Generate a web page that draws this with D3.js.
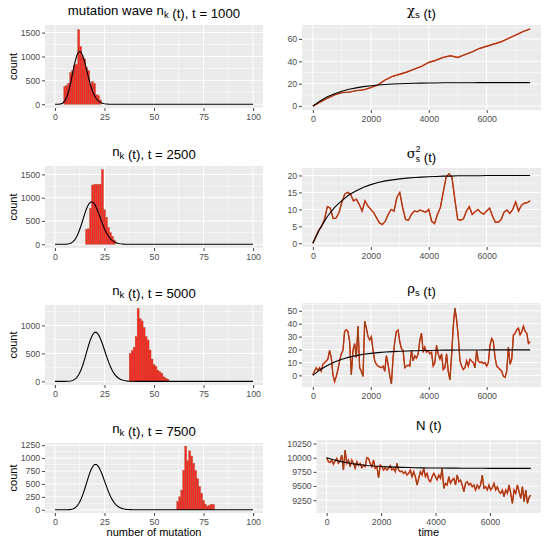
<!DOCTYPE html>
<html>
<head>
<meta charset="utf-8">
<script src="https://cdn.jsdelivr.net/npm/d3@7"></script>
<style>
  body { margin: 0; background: #fff; }
</style>
</head>
<body>
<script>
// ---- histogram data: counts per integer bin (number of mutations) ----
const bins1000   = [5,6,7,8,9,10,11,12,13,14,15,16,17,18,19,20,21,22,23];
const counts1000 = [370,390,440,660,700,810,840,1560,1210,990,950,770,700,410,470,430,200,180,90];

const bins2500   = [16,17,18,19,20,21,22,23,24,25,26,27,28,29,30];
const counts2500 = [320,330,770,1270,1280,1290,1280,1290,1600,740,580,360,250,170,90];

const bins5000   = [38,39,40,41,42,43,44,45,46,47,48,49,50,51,52,53,54,55,56,57];
const counts5000 = [500,550,610,800,1300,1120,1080,960,800,740,560,400,300,270,200,170,140,80,60,40];

const bins7500   = [62,63,64,65,66,67,68,69,70,71,72,73,74,75,76,77,78,79,80];
const counts7500 = [160,250,380,760,1230,950,1140,1040,900,760,600,450,320,180,110,70,90,110,100];

// ---- theoretical mutation wave (black curves) ----
const curveK = [0,1,2,3,4,5,6,7,8,9,10,11,12,13,14,15,16,17,18,19,20,
                21,22,23,24,25,26,27,28,29,30,31,32,33,34,35,36,37,38,39,40,41,42,100];
const curve1000 = [0,0,2,8,27,70,152,282,458,661,859,1015,1100,1100,1021,885,719,550,397,272,177,
                   109,65,37,20,10,5,2,1,0,0,0,0,0,0,0,0,0,0,0,0,0,0,0];
const curve2500 = [0,0,0,0,0,1,4,10,23,50,94,163,258,377,511,647,769,859,907,907,861,
                   779,673,556,440,335,244,172,117,77,48,30,18,10,6,3,2,1,0,0,0,0,0,0];
const curveLate = [0,0,0,0,0,0,1,3,7,17,35,67,117,189,284,398,522,646,754,833,875,
                   875,835,762,667,560,453,352,264,191,134,91,60,38,23,14,8,5,3,1,1,0,0,0];

// ---- time series ----
const t250 = [0,250,500,750,1000,1250,1500,1750,2000,2250,2500,2750,3000,3250,3500,3750,
              4000,4250,4500,4750,5000,5250,5500,5750,6000,6250,6500,6750,7000,7250,7500];
const chiSim   = [0,3.5,7,10,12,12.5,13.8,14.5,16.5,19,23.5,26.5,28.5,30.5,33,35.5,
                  39,41,43.5,45,43.5,46,48.5,51.5,53.5,55.5,57.5,60.5,63.5,66.5,69];
const chiTheo  = [0,4.6,8.3,11.1,13.3,15,16.3,17.4,18.2,18.8,19.3,19.7,20,20.2,20.4,20.5,
                  20.6,20.7,20.8,20.8,20.9,20.9,20.9,21,21,21,21,21,21,21,21];
const sigTheo  = [0,4.4,7.9,10.6,12.6,14.3,15.5,16.5,17.3,17.9,18.4,18.7,19,19.2,19.4,19.5,
                  19.6,19.7,19.8,19.8,19.9,19.9,19.9,19.9,20,20,20,20,20,20,20];
const rhoTheo  = [0,4.4,7.7,10.4,12.5,14.1,15.3,16.3,17,17.6,18.1,18.4,18.7,18.9,19.1,19.2,
                  19.3,19.4,19.5,19.5,19.6,19.6,19.6,19.6,19.7,19.7,19.7,19.7,19.7,19.7,19.7];
const nTheo    = [10000,9965,9935,9910,9890,9875,9862,9852,9845,9838,9833,9829,9826,9823,9821,9819,
                  9818,9817,9816,9815,9814,9814,9813,9813,9812,9812,9812,9812,9812,9812,9812];

// sampled every 100 time steps
const sigmaSim = [0,2,3.8,5,7,10.8,10.4,7.3,7.4,9,12,14.5,15,14.5,12.5,13,11.5,9.5,12.5,11,
                  10,9,7.5,6,5.5,6.5,8.5,10,9.5,13.5,15,10.5,7,6.8,8.5,9.5,9.3,9.8,9.5,9.2,
                  10,6.5,5.8,8.5,10.5,15,19.5,20.5,19.5,13,7,6.8,7.2,9.5,10.8,8.5,9.3,10,9,8.6,
                  9.5,10.4,8,6.2,6.2,7,9.2,9.8,8.8,10,12.2,9.5,11.2,11.8,12,12.5];

// evenly spaced over 0..7500
const rhoSim = [0.5,3.2,5.9,3.7,5.9,3.2,8.6,9.9,11.2,12.6,19.3,13.9,0.5,-4.8,-0.8,4.5,11.2,16.6,19.3,34,
                35.3,34,26,0.5,19.3,24.6,13.9,38,5.9,3.2,-0.8,42,36.6,30,27.3,30,19.3,11.2,8.6,7.2,
                6.5,5.9,7.2,3.2,15.2,8.6,0,-6.5,13.9,26,34,35,26,20.6,19.3,5.9,7.2,8,7.2,19.3,
                11.2,15.2,13.4,16.6,27.3,32.6,17.9,21.9,17.9,19.3,16.6,17.9,7.2,9.9,23.3,16.6,12.6,16.6,4.5,5.9,
                16.6,3.2,-3.5,15.2,38,52,43.3,30,11.2,7.2,4.5,5.9,11.2,7.2,12.6,11.2,9.9,5.9,19.3,11.2,
                9.9,10.4,9.1,9.9,7.2,9.9,23.3,28.6,26,13.9,7.2,5.9,4.5,3.2,-0.8,-1.6,3.2,21.9,8.6,12.6,
                31.3,32.6,35.3,36.6,31.3,34,38,34,32.6,24.6,26];

const nSim = [10000,9929,9918,9959,9882,9941,9988,9900,9941,10047,9782,10135,9900,9959,9841,9959,9900,9812,9929,9859,
              9900,9824,9870,9841,10000,9988,9900,9841,9959,9812,9841,9647,9870,9841,9782,9824,9782,9812,9859,9782,
              9812,9753,9900,9782,9753,9765,9724,9753,9694,9724,9782,9665,9753,9665,9518,9635,9753,9694,9812,9665,
              9724,9606,9577,9665,9724,9665,9606,9694,9635,9812,9459,9547,9518,9665,9547,9606,9635,9518,9694,9577,
              9606,9518,9400,9547,9577,9518,9547,9488,9518,9430,9518,9459,9518,9694,9459,9488,9430,9518,9430,9471,
              9547,9430,9488,9400,9371,9430,9312,9430,9371,9518,9371,9194,9430,9371,9518,9400,9282,9488,9224,9430,
              9194,9300,9341];

const tEnd = 7500;

// ---- drawing ----
const FONT = "'Liberation Sans', Arial, Helvetica, sans-serif";
const GREEK = "'DejaVu Serif', serif";
const svg = d3.select("body").append("svg")
    .attr("width", 550)
    .attr("height", 543)
    .style("font-family", FONT);
svg.append("rect").attr("width", 550).attr("height", 543).attr("fill", "#fff");

function minorOf(ticks, dom) {
  const step = ticks[1] - ticks[0];
  const out = [];
  for (let v = ticks[0] - step / 2; v <= ticks[ticks.length - 1] + step / 2 + 1e-9; v += step) {
    if (v > dom[0] && v < dom[1]) out.push(v);
  }
  return out;
}

function drawTitle(p, parts) {
  const t = svg.append("text")
      .attr("x", (p.left + p.right) / 2)
      .attr("y", p.top - 10)
      .attr("text-anchor", "middle")
      .attr("font-size", 13.2)
      .attr("fill", "#000");
  parts.forEach(function(s) {
    if (s.sub && s.sup) {
      t.append("tspan").attr("dy", -6).attr("font-size", 8.5).text(s.sup);
      t.append("tspan").attr("dx", -4.7).attr("dy", 9.5).attr("font-size", 8.5).text(s.sub);
      t.append("tspan").attr("dy", -3.5).text("");
    } else if (s.sub) {
      t.append("tspan").attr("dy", 3).attr("font-size", 9.5).text(s.sub);
      t.append("tspan").attr("dy", -3).text("");
    } else if (s.greek) {
      t.append("tspan").attr("font-family", GREEK).text(s.greek);
    } else {
      t.append("tspan").text(s.text);
    }
  });
}

function drawPanel(p) {
  const x = d3.scaleLinear().domain(p.xDomain).range([p.left, p.right]);
  const y = d3.scaleLinear().domain(p.yDomain).range([p.bottom, p.top]);
  const g = svg.append("g");

  g.append("rect")
      .attr("x", p.left).attr("y", p.top)
      .attr("width", p.right - p.left).attr("height", p.bottom - p.top)
      .attr("fill", "#EBEBEB");

  // grid
  g.selectAll(".vminor").data(minorOf(p.xTicks, p.xDomain)).enter().append("line")
      .attr("x1", d => x(d)).attr("x2", d => x(d))
      .attr("y1", p.top).attr("y2", p.bottom)
      .attr("stroke", "#fff").attr("stroke-width", 0.5);
  g.selectAll(".hminor").data(minorOf(p.yTicks, p.yDomain)).enter().append("line")
      .attr("y1", d => y(d)).attr("y2", d => y(d))
      .attr("x1", p.left).attr("x2", p.right)
      .attr("stroke", "#fff").attr("stroke-width", 0.5);
  g.selectAll(".vmajor").data(p.xTicks).enter().append("line")
      .attr("x1", d => x(d)).attr("x2", d => x(d))
      .attr("y1", p.top).attr("y2", p.bottom)
      .attr("stroke", "#fff").attr("stroke-width", 1);
  g.selectAll(".hmajor").data(p.yTicks).enter().append("line")
      .attr("y1", d => y(d)).attr("y2", d => y(d))
      .attr("x1", p.left).attr("x2", p.right)
      .attr("stroke", "#fff").attr("stroke-width", 1);

  // axes
  const ax = g.append("g")
      .attr("transform", "translate(0," + p.bottom + ")")
      .call(d3.axisBottom(x).tickValues(p.xTicks).tickSize(3).tickPadding(2.5).tickFormat(d3.format("d")));
  const ay = g.append("g")
      .attr("transform", "translate(" + p.left + ",0)")
      .call(d3.axisLeft(y).tickValues(p.yTicks).tickSize(3).tickPadding(1.8).tickFormat(d3.format("d")));
  [ax, ay].forEach(function(a) {
    a.attr("font-family", FONT).attr("font-size", 8.8);
    a.select(".domain").remove();
    a.selectAll("line").attr("stroke", "#333").attr("stroke-width", 0.9);
    a.selectAll("text").attr("fill", "#4D4D4D");
  });

  drawTitle(p, p.title);

  if (p.yTitle) {
    svg.append("text")
        .attr("transform", "translate(13," + ((p.top + p.bottom) / 2) + ") rotate(-90)")
        .attr("text-anchor", "middle")
        .attr("dy", "0.35em")
        .attr("font-size", 11)
        .attr("fill", "#000")
        .text(p.yTitle);
  }
  if (p.xTitle) {
    svg.append("text")
        .attr("x", (p.left + p.right) / 2)
        .attr("y", p.bottom + 23)
        .attr("text-anchor", "middle")
        .attr("font-size", 11)
        .attr("fill", "#000")
        .text(p.xTitle);
  }
  return {x: x, y: y, g: g};
}

function drawHist(p, bins, counts, curve) {
  const s = drawPanel(p);
  const data = bins.map((k, i) => ({k: k, c: counts[i]}));
  s.g.selectAll(".bar").data(data).enter().append("rect")
      .attr("x", d => s.x(d.k - 0.5))
      .attr("width", d => s.x(d.k + 0.5) - s.x(d.k - 0.5))
      .attr("y", d => s.y(d.c))
      .attr("height", d => s.y(0) - s.y(d.c))
      .attr("fill", "#ff2626")
      .attr("stroke", "#a5502a")
      .attr("stroke-width", 0.4);
  const line = d3.line().x((d, i) => s.x(curveK[i])).y(d => s.y(d));
  s.g.append("path").datum(curve)
      .attr("d", line)
      .attr("fill", "none")
      .attr("stroke", "#000")
      .attr("stroke-width", 1.1);
}

function drawSeries(p, simT, sim, theo) {
  const s = drawPanel(p);
  const simLine = d3.line().x((d, i) => s.x(simT[i])).y(d => s.y(d));
  const theoLine = d3.line().x((d, i) => s.x(t250[i])).y(d => s.y(d));
  s.g.append("path").datum(sim).attr("d", simLine)
      .attr("fill", "none").attr("stroke", "#ff1a00").attr("stroke-width", 1.4);
  s.g.append("path").datum(sim).attr("d", simLine)
      .attr("fill", "none").attr("stroke", "#8a4a1c").attr("stroke-width", 1.0);
  s.g.append("path").datum(theo).attr("d", theoLine)
      .attr("fill", "none").attr("stroke", "#000").attr("stroke-width", 1.1);
}

const histX = [-5, 105];
const histTicks = [0, 25, 50, 75, 100];
const timeX = [-375, 7875];
const timeTicks = [0, 2000, 4000, 6000];

drawHist({left: 45, right: 263, top: 25, bottom: 108, xDomain: histX, xTicks: histTicks,
          yDomain: [-79, 1659], yTicks: [0, 500, 1000, 1500], yTitle: "count",
          title: [{text: "mutation wave n"}, {sub: "k"}, {text: " (t), t = 1000"}]},
         bins1000, counts1000, curve1000);
drawHist({left: 45, right: 263, top: 166, bottom: 248, xDomain: histX, xTicks: histTicks,
          yDomain: [-80, 1680], yTicks: [0, 500, 1000, 1500], yTitle: "count",
          title: [{text: "n"}, {sub: "k"}, {text: " (t), t = 2500"}]},
         bins2500, counts2500, curve2500);
drawHist({left: 45, right: 263, top: 305, bottom: 385, xDomain: histX, xTicks: histTicks,
          yDomain: [-65, 1365], yTicks: [0, 500, 1000], yTitle: "count",
          title: [{text: "n"}, {sub: "k"}, {text: " (t), t = 5000"}]},
         bins5000, counts5000, curveLate);
drawHist({left: 45, right: 263, top: 443, bottom: 513, xDomain: histX, xTicks: histTicks,
          yDomain: [-62, 1292], yTicks: [0, 250, 500, 750, 1000, 1250], yTitle: "count",
          xTitle: "number of mutation",
          title: [{text: "n"}, {sub: "k"}, {text: " (t), t = 7500"}]},
         bins7500, counts7500, curveLate);

drawSeries({left: 302, right: 541, top: 25, bottom: 110, xDomain: timeX, xTicks: timeTicks,
            yDomain: [-3.5, 72.5], yTicks: [0, 20, 40, 60],
            title: [{greek: "\u03c7"}, {sub: "s"}, {text: " (t)"}]},
           t250, chiSim, chiTheo);
drawSeries({left: 302, right: 541, top: 168, bottom: 247, xDomain: timeX, xTicks: timeTicks,
            yDomain: [-1.1, 22.2], yTicks: [0, 5, 10, 15, 20],
            title: [{greek: "\u03c3"}, {sup: "2", sub: "s"}, {text: " (t)"}]},
           sigmaSim.map((d, i) => i * 100), sigmaSim, sigTheo);
drawSeries({left: 302, right: 541, top: 303, bottom: 387, xDomain: timeX, xTicks: timeTicks,
            yDomain: [-9, 56], yTicks: [0, 10, 20, 30, 40, 50],
            title: [{greek: "\u03c1"}, {sub: "s"}, {text: " (t)"}]},
           rhoSim.map((d, i) => i * tEnd / (rhoSim.length - 1)), rhoSim, rhoTheo);
drawSeries({left: 316.5, right: 541, top: 440, bottom: 513, xDomain: timeX, xTicks: timeTicks,
            yDomain: [9024, 10312], yTicks: [9250, 9500, 9750, 10000, 10250],
            xTitle: "time",
            title: [{text: "N (t)"}]},
           nSim.map((d, i) => i * tEnd / (nSim.length - 1)), nSim, nTheo);
</script>
</body>
</html>
